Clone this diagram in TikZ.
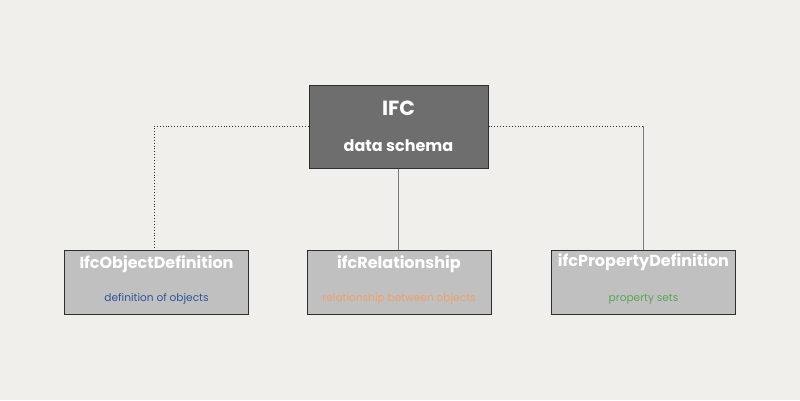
\documentclass[tikz,border=0pt]{standalone}
\usepackage{fontspec}
\setmainfont{Poppins}
\definecolor{bg}{HTML}{F0EFEB}
\definecolor{darkbox}{HTML}{6E6E6E}
\definecolor{lightbox}{HTML}{C0C0C0}
\definecolor{edge}{HTML}{2E2E2E}
\definecolor{linegray}{HTML}{7A7A7A}
\definecolor{subblue}{HTML}{2F5597}
\definecolor{suborange}{HTML}{F0A06A}
\definecolor{subgreen}{HTML}{5AA55A}
\begin{document}
\begin{tikzpicture}[x=1pt,y=-1pt,
  boxdark/.style={draw=edge,line width=1pt,fill=darkbox,minimum width=179pt,minimum height=83pt,inner sep=0pt},
  boxlight/.style={draw=edge,line width=1pt,fill=lightbox,minimum width=184pt,minimum height=64pt,inner sep=0pt},
  ttl/.style={font=\bfseries\fontsize{16}{19}\selectfont,text=white,inner sep=0pt},
  sub/.style={font=\fontsize{10.6}{12}\selectfont,inner sep=0pt},
  dotline/.style={draw=edge,line width=0.9pt,dotted},
  solidline/.style={draw=linegray,line width=1pt}]
\fill[bg] (0,0) rectangle (800,400);
\useasboundingbox (0,0) rectangle (800,400);
\node[boxdark] (main) at (398.5,126.5) {};
\node[ttl,font=\bfseries\fontsize{20.5}{24}\selectfont] (ifc) at (398.5,108) {IFC};
\node[ttl] (schema) at (398.5,146) {data schema};
\node[boxlight] (obj) at (156.5,282) {};
\node[boxlight] (rel) at (399,282) {};
\node[boxlight] (prop) at (643.5,282) {};
\node[ttl] (objt) at (156.5,264) {IfcObjectDefinition};
\node[sub,text=subblue] (objs) at (156.5,299) {definition of objects};
\node[ttl] (relt) at (399,264) {ifcRelationship};
\node[sub,text=suborange] (rels) at (399,299) {relationship between objects};
\node[ttl] (propt) at (643.5,262) {ifcPropertyDefinition};
\node[sub,text=subgreen] (props) at (643.5,299) {property sets};
\coordinate (lc) at (154,126);
\coordinate (rc) at (643,126);
\draw[dotline] (main.west |- lc) -- (lc) -- (lc |- obj.north);
\draw[dotline] (main.east |- rc) -- (rc);
\draw[solidline] (rc) -- (rc |- prop.north);
\draw[solidline] (main.south) -- (rel.north -| main.south);
\end{tikzpicture}
\end{document}
